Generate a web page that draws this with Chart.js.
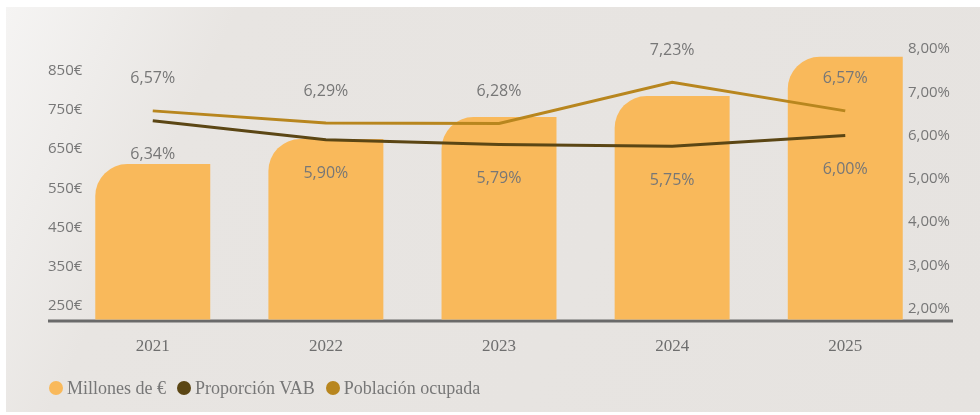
<!DOCTYPE html>
<html><head><meta charset="utf-8">
<script src="https://cdn.jsdelivr.net/npm/chart.js@4.4.1/dist/chart.umd.min.js"></script>
<style>
html,body{margin:0;padding:0;background:#fff;width:980px;height:415px;overflow:hidden}
#bg{position:absolute;left:6px;top:7px;width:974px;height:405px;background:linear-gradient(115deg,#f5f4f3 0%,#e8e5e2 20%,#e6e3e0 100%)}
#wrap{position:absolute;left:0;top:0;width:980px;height:415px}
#legend{position:absolute;left:49px;top:378px;height:20px;display:flex;align-items:center;font-family:'Liberation Serif',serif;font-size:18px;line-height:20px;color:#777;white-space:nowrap}
.item{display:flex;align-items:center;margin-right:11px}
.dot{width:14px;height:14px;border-radius:50%;margin-right:4px}
</style></head><body>
<div id="bg"></div>
<div id="wrap"><canvas id="c" width="980" height="415"></canvas></div>
<div id="legend"></div>
<script>
const categories = ['2021', '2022', '2023', '2024', '2025'];
const millonesEuros = [612, 676, 732, 786, 886];
const proporcionVAB = [6.34, 5.90, 5.79, 5.75, 6.00];
const poblacionOcupada = [6.57, 6.29, 6.28, 7.23, 6.57];
const leftTicks = [250, 350, 450, 550, 650, 750, 850];
const rightTicks = [2, 3, 4, 5, 6, 7, 8];

const pct = v => v.toFixed(2).replace('.', ',') + '%';
const toPoints = arr => arr.map((v, i) => ({x: i, y: v}));

const labelOffsets = {'Proporción VAB': 34, 'Población ocupada': -32};

const dataLabels = {
  id: 'dataLabels',
  afterDatasetsDraw(chart) {
    const ctx = chart.ctx;
    ctx.save();
    ctx.font = '16px "Open Sans"';
    ctx.fillStyle = '#777777';
    ctx.textAlign = 'center';
    ctx.textBaseline = 'middle';
    chart.data.datasets.forEach((ds, di) => {
      const off = labelOffsets[ds.label];
      if (off === undefined) return;
      chart.getDatasetMeta(di).data.forEach((pt, i) => {
        ctx.fillText(pct(ds.data[i].y), pt.x, pt.y + off);
      });
    });
    ctx.restore();
  }
};

const baseLine = {
  id: 'baseLine',
  beforeDatasetsDraw(chart) {
    const ctx = chart.ctx;
    const y = chart.chartArea.bottom + 1.5;
    ctx.save();
    ctx.strokeStyle = '#6a6a6a';
    ctx.lineWidth = 3;
    ctx.beginPath();
    ctx.moveTo(chart.scales.y.left + 3, y);
    ctx.lineTo(chart.scales.y1.right, y);
    ctx.stroke();
    ctx.restore();
  }
};

const chart = new Chart(document.getElementById('c'), {
  type: 'bar',
  data: {
    datasets: [
      {
        type: 'line', label: 'Proporción VAB', data: toPoints(proporcionVAB),
        borderColor: '#5b4614', backgroundColor: '#5b4614', borderWidth: 3,
        pointRadius: 0, tension: 0, fill: false, yAxisID: 'y1', order: 1
      },
      {
        type: 'line', label: 'Población ocupada', data: toPoints(poblacionOcupada),
        borderColor: '#b8861e', backgroundColor: '#b8861e', borderWidth: 3,
        pointRadius: 0, tension: 0, fill: false, yAxisID: 'y1', order: 2
      },
      {
        type: 'bar', label: 'Millones de €', data: toPoints(millonesEuros),
        backgroundColor: '#f9b95b', borderWidth: 0,
        borderRadius: {topLeft: 32, topRight: 0, bottomLeft: 0, bottomRight: 0},
        borderSkipped: 'start', barPercentage: 0.664, categoryPercentage: 1,
        yAxisID: 'y', order: 3
      }
    ]
  },
  options: {
    responsive: false,
    devicePixelRatio: 1,
    animation: false,
    layout: {padding: {left: 45, right: 27, top: 40, bottom: 41}},
    plugins: {legend: {display: false}, tooltip: {enabled: false}},
    scales: {
      x: {
        type: 'linear', offset: false, bounds: 'data', min: -0.3896, max: 4.345,
        grid: {display: false, drawTicks: false, offset: false}, border: {display: false},
        afterBuildTicks: s => { s.ticks = categories.map((c, i) => ({value: i})); },
        ticks: {
          callback: v => categories[v], autoSkip: false, maxRotation: 0,
          font: {family: 'Liberation Serif', size: 17}, color: '#6e6e6e', padding: 17
        }
      },
      y: {
        position: 'left', min: 214.3, max: 929.1, bounds: 'data',
        grid: {display: false, drawTicks: false}, border: {display: false},
        afterBuildTicks: s => { s.ticks = leftTicks.map(v => ({value: v})); },
        ticks: {callback: v => v + '€', font: {family: 'Open Sans', size: 15}, color: '#777777', padding: 3}
      },
      y1: {
        position: 'right', min: 1.746, max: 8.208, bounds: 'data',
        grid: {display: false, drawTicks: false}, border: {display: false},
        afterBuildTicks: s => { s.ticks = rightTicks.map(v => ({value: v})); },
        ticks: {callback: v => pct(v), font: {family: 'Open Sans', size: 15}, color: '#777777', padding: 3}
      }
    }
  },
  plugins: [dataLabels, baseLine]
});

// HTML legend built from the chart's datasets, in reference order
const legendOrder = ['Millones de €', 'Proporción VAB', 'Población ocupada'];
const legendEl = document.getElementById('legend');
legendOrder.forEach(name => {
  const ds = chart.data.datasets.find(d => d.label === name);
  const item = document.createElement('div');
  item.className = 'item';
  const dot = document.createElement('span');
  dot.className = 'dot';
  dot.style.background = ds.backgroundColor;
  const txt = document.createElement('span');
  txt.textContent = ds.label;
  item.appendChild(dot); item.appendChild(txt);
  legendEl.appendChild(item);
});
</script>
</body></html>
